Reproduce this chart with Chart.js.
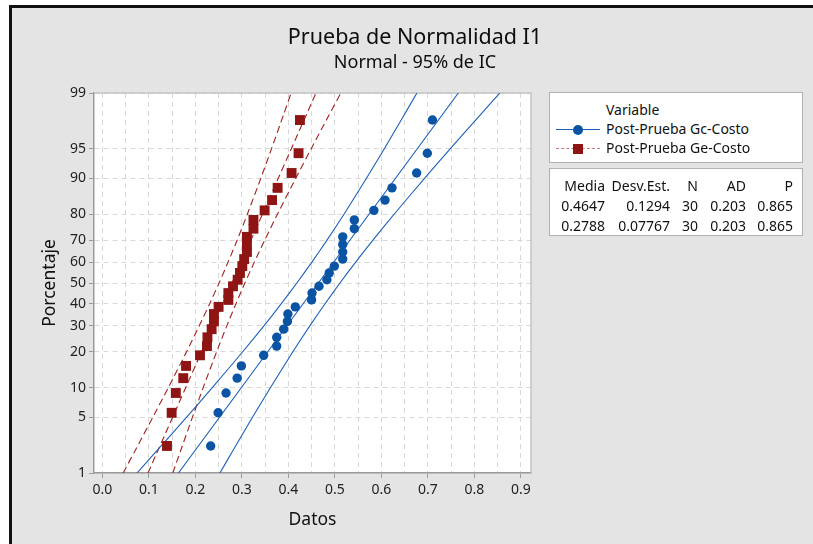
<!DOCTYPE html>
<html>
<head>
<meta charset="utf-8">
<script src="https://cdn.jsdelivr.net/npm/chart.js@4.4.0/dist/chart.umd.min.js"></script>
<style>
  html { overflow: hidden; }
  body { margin: 0; width: 813px; height: 544px; position: relative; overflow: hidden; background: #fff;
         font-family: "Segoe UI", "Noto Sans", "Open Sans", sans-serif; color: #111; }
  #frame { position: absolute; left: 9px; top: 5px; right: 0; bottom: 0; background: #e4e4e4;
           border-top: 3px solid #111; border-left: 3px solid #111; }
  #c { position: absolute; left: 0; top: 0; }
  .title { position: absolute; left: 165px; width: 500px; text-align: center; white-space: nowrap; color: #0d0d0d; }
  .box { position: absolute; left: 549px; width: 254px; box-sizing: border-box; background: #fff;
         border: 1px solid #b2b2b2; font-size: 14px; }
  .row { position: absolute; left: 0; height: 20px; line-height: 20px; white-space: nowrap; }
  .sample { position: absolute; left: 6px; top: 10px; width: 44px; height: 0; }
  .mark { position: absolute; left: 17px; top: -5px; width: 10px; height: 10px; }
  table { position: absolute; left: 0; top: 7px; border-collapse: collapse; table-layout: fixed; font-size: 14px; }
  td { padding: 0; text-align: right; height: 20px; line-height: 20px; white-space: nowrap; }
</style>
</head>
<body>
<div id="frame"></div>
<canvas id="c" width="813" height="544"></canvas>
<div class="title" style="top:21px;font-size:21.5px;line-height:30px;">Prueba de Normalidad I1</div>
<div class="title" style="top:49px;font-size:18px;line-height:24px;">Normal - 95% de IC</div>

<div class="box" style="top:92px;height:71px;">
  <div class="row" style="top:7px;left:56px;">Variable</div>
  <div class="row" style="top:26px;width:100%;">
    <div class="sample" style="border-top:1px solid #1f5fb5;"><div class="mark" style="background:#0b54a4;border-radius:50%;"></div></div>
    <span style="position:absolute;left:56px;">Post-Prueba Gc-Costo</span>
  </div>
  <div class="row" style="top:45px;width:100%;">
    <div class="sample" style="border-top:1px dashed #c27a7a;"><div class="mark" style="background:#8f1515;"></div></div>
    <span style="position:absolute;left:56px;">Post-Prueba Ge-Costo</span>
  </div>
</div>

<div class="box" style="top:168px;height:68px;">
  <table id="stats">
    <colgroup><col style="width:55px"><col style="width:65px"><col style="width:28px"><col style="width:48px"><col style="width:47px"></colgroup>
  </table>
</div>

<script>
// percent levels of the y axis (normal probability scale)
var yTickPct = [1, 5, 10, 20, 30, 40, 50, 60, 70, 80, 90, 95, 99];
// x axis gridlines, labels only on every tenth
var xGrid = [0, 0.05, 0.1, 0.15, 0.2, 0.25, 0.3, 0.35, 0.4, 0.45, 0.5, 0.55, 0.6, 0.65, 0.7, 0.75, 0.8, 0.85, 0.9];

// plotted percentage of each ordered observation
var rankPct = [2.3, 5.6, 8.9, 12.2, 15.5, 18.8, 22.0, 25.3, 28.6, 31.9, 35.2, 38.5, 41.8, 45.1, 48.4,
               51.6, 54.9, 58.2, 61.5, 64.8, 68.1, 71.4, 74.7, 78.0, 81.3, 84.5, 87.8, 91.1, 94.4, 97.7];

var gcCosto = [0.233, 0.249, 0.266, 0.290, 0.299, 0.347, 0.375, 0.375, 0.390, 0.398, 0.399, 0.415, 0.450, 0.451, 0.466,
               0.483, 0.488, 0.499, 0.517, 0.517, 0.517, 0.517, 0.542, 0.542, 0.584, 0.608, 0.623, 0.676, 0.699, 0.710];
var geCosto = [0.139, 0.149, 0.158, 0.174, 0.180, 0.210, 0.225, 0.226, 0.235, 0.240, 0.240, 0.250, 0.271, 0.271, 0.281,
               0.291, 0.296, 0.301, 0.305, 0.311, 0.311, 0.311, 0.325, 0.325, 0.349, 0.365, 0.377, 0.407, 0.422, 0.425];

// fitted line (at 1% and 99%) and 95% confidence band
var fitPct = [1, 99];
var gcFit = [0.1637, 0.7657];
var geFit = [0.0981, 0.4595];
var ciPct = [1, 2, 5, 10, 20, 30, 40, 50, 60, 70, 80, 90, 95, 98, 99];
var gcLow = [0.0745, 0.1173, 0.1808, 0.2364, 0.3019, 0.3475, 0.3849, 0.4184, 0.4504, 0.4832, 0.5197, 0.5681, 0.6065, 0.6488, 0.6766];
var gcHigh = [0.2528, 0.2806, 0.3229, 0.3614, 0.4097, 0.4462, 0.4790, 0.5110, 0.5445, 0.5820, 0.6275, 0.6930, 0.7486, 0.8121, 0.8549];
var geLow = [0.0446, 0.0703, 0.1084, 0.1418, 0.1811, 0.2084, 0.2309, 0.2510, 0.2702, 0.2899, 0.3118, 0.3408, 0.3639, 0.3893, 0.4060];
var geHigh = [0.1516, 0.1683, 0.1937, 0.2168, 0.2458, 0.2677, 0.2874, 0.3066, 0.3267, 0.3492, 0.3765, 0.4159, 0.4492, 0.4873, 0.5130];

// summary table
var statHead = ['Media', 'Desv.Est.', 'N', 'AD', 'P'];
var statGc = ['0.4647', '0.1294', '30', '0.203', '0.865'];
var statGe = ['0.2788', '0.07767', '30', '0.203', '0.865'];

var blue = '#0b54a4', blueLine = '#1f5fb5';
var red = '#8f1515', redLine = '#a02222';
var fontFam = '"Segoe UI", "Noto Sans", "Open Sans", sans-serif';

// inverse normal cdf (Acklam), used for the probability axis
function probit(p) {
  var a = [-3.969683028665376e+01, 2.209460984245205e+02, -2.759285104469687e+02, 1.383577518672690e+02, -3.066479806614716e+01, 2.506628277459239e+00];
  var b = [-5.447609879822406e+01, 1.615858368580409e+02, -1.556989798598866e+02, 6.680131188771972e+01, -1.328068155288572e+01];
  var c = [-7.784894002430293e-03, -3.223964580411365e-01, -2.400758277161838e+00, -2.549732539343734e+00, 4.374664141464968e+00, 2.938163982698783e+00];
  var d = [7.784695709041462e-03, 3.224671290700398e-01, 2.445134137142996e+00, 3.754408661907416e+00];
  var q, r;
  if (p < 0.02425) {
    q = Math.sqrt(-2 * Math.log(p));
    return (((((c[0]*q+c[1])*q+c[2])*q+c[3])*q+c[4])*q+c[5]) / ((((d[0]*q+d[1])*q+d[2])*q+d[3])*q+1);
  }
  if (p > 1 - 0.02425) {
    q = Math.sqrt(-2 * Math.log(1 - p));
    return -(((((c[0]*q+c[1])*q+c[2])*q+c[3])*q+c[4])*q+c[5]) / ((((d[0]*q+d[1])*q+d[2])*q+d[3])*q+1);
  }
  q = p - 0.5; r = q * q;
  return (((((a[0]*r+a[1])*r+a[2])*r+a[3])*r+a[4])*r+a[5])*q / (((((b[0]*r+b[1])*r+b[2])*r+b[3])*r+b[4])*r+1);
}

function toPoints(xs, pcts) {
  return xs.map(function(v, i) { return { x: v, y: probit(pcts[i] / 100) }; });
}

// stats table
var tbl = document.getElementById('stats');
[statHead, statGc, statGe].forEach(function(row) {
  var tr = document.createElement('tr');
  row.forEach(function(t) { var td = document.createElement('td'); td.textContent = t; tr.appendChild(td); });
  tbl.appendChild(tr);
});

var plotFrame = {
  id: 'plotFrame',
  beforeDraw: function(chart) {
    var a = chart.chartArea, ctx = chart.ctx;
    ctx.save();
    ctx.fillStyle = '#fff';
    ctx.fillRect(a.left, a.top, a.right - a.left, a.bottom - a.top);
    ctx.restore();
  },
  beforeDatasetsDraw: function(chart) {
    var a = chart.chartArea, ctx = chart.ctx;
    ctx.save();
    ctx.strokeStyle = '#c4c4c4';
    ctx.lineWidth = 1.5;
    ctx.beginPath();
    ctx.moveTo(a.left, a.top);
    ctx.lineTo(a.right, a.top);
    ctx.lineTo(a.right, a.bottom);
    ctx.stroke();
    ctx.restore();
  }
};

function lineSet(xs, pcts, color, dash) {
  return {
    data: toPoints(xs, pcts), showLine: true, pointRadius: 0, borderColor: color,
    borderWidth: 1.1, borderDash: dash, tension: 0.2, fill: false
  };
}

new Chart(document.getElementById('c'), {
  type: 'scatter',
  data: {
    datasets: [
      { label: 'Post-Prueba Gc-Costo', data: toPoints(gcCosto, rankPct), pointStyle: 'circle', pointRadius: 4.7,
        backgroundColor: blue, borderColor: blue, borderWidth: 0 },
      { label: 'Post-Prueba Ge-Costo', data: toPoints(geCosto, rankPct), pointStyle: 'rect', pointRadius: 7,
        backgroundColor: red, borderColor: red, borderWidth: 0 },
      lineSet(gcFit, fitPct, blueLine, []),
      lineSet(gcLow, ciPct, blueLine, []),
      lineSet(gcHigh, ciPct, blueLine, []),
      lineSet(geFit, fitPct, redLine, [7, 4]),
      lineSet(geLow, ciPct, redLine, [7, 4]),
      lineSet(geHigh, ciPct, redLine, [7, 4])
    ]
  },
  options: {
    responsive: false,
    animation: false,
    events: [],
    layout: { padding: { left: 10, top: 93, right: 282, bottom: 0 } },
    plugins: { legend: { display: false }, tooltip: { enabled: false } },
    scales: {
      x: {
        type: 'linear', min: -0.018, max: 0.922,
        afterBuildTicks: function(s) { s.ticks = xGrid.map(function(v) { return { value: v }; }); },
        afterFit: function(s) { s.height = 71; },
        ticks: {
          autoSkip: false, maxRotation: 0, padding: 4, color: '#222',
          font: { size: 14, family: fontFam },
          callback: function(v, i) { return i % 2 === 0 ? v.toFixed(1) : ''; }
        },
        grid: {
          color: '#d8d8d8', lineWidth: 1, tickLength: 5, tickWidth: 1, tickBorderDash: [],
          tickColor: function(ctx) { return ctx.index % 2 === 0 ? '#9a9a9a' : 'rgba(0,0,0,0)'; }
        },
        border: { color: '#9a9a9a', width: 1.5, dash: [5, 4] },
        title: { display: true, text: 'Datos', color: '#111', font: { size: 17.5, family: fontFam }, padding: { top: 0, bottom: 13 } }
      },
      y: {
        type: 'linear', min: probit(0.01), max: probit(0.99),
        afterBuildTicks: function(s) { s.ticks = yTickPct.map(function(p) { return { value: probit(p / 100) }; }); },
        afterFit: function(s) { s.width = 84; },
        ticks: {
          autoSkip: false, padding: 3, color: '#222',
          font: { size: 14, family: fontFam },
          callback: function(v, i) { return String(yTickPct[i]); }
        },
        grid: { color: '#d8d8d8', lineWidth: 1, tickLength: 5, tickWidth: 1, tickBorderDash: [], tickColor: '#9a9a9a' },
        border: { color: '#9a9a9a', width: 1.5, dash: [5, 4] },
        title: { display: true, text: 'Porcentaje', color: '#111', font: { size: 17.5, family: fontFam }, padding: { top: 30, bottom: 0 } }
      }
    }
  },
  plugins: [plotFrame]
});
</script>
</body>
</html>
